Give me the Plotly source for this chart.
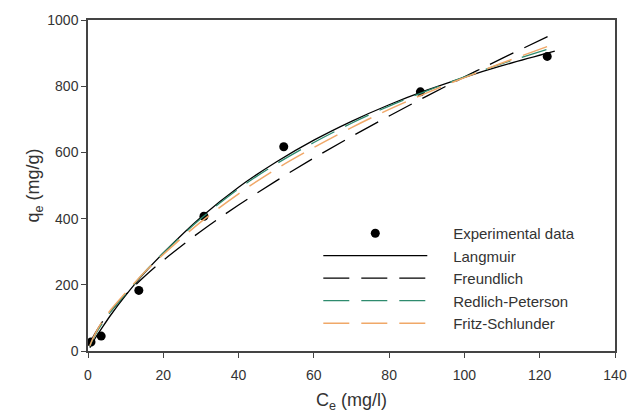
import plotly.graph_objects as go

ce_exp = [0.8, 3.5, 13.5, 30.8, 52, 88.3, 122]
qe_exp = [27, 45, 183, 407, 617, 783, 890]

# Model curves
ce_fit = [0.5, 1, 2, 3.5, 6, 10, 15, 20, 30, 40, 50, 60, 70, 80, 90, 100, 110, 124]
q_langmuir = [10, 20, 40, 66, 108, 168, 236, 296, 404, 495, 571, 637, 694, 744, 788, 827, 862, 906]
q_freundlich = [22, 35, 56, 83, 120, 170, 225, 274, 362, 441, 514, 583, 648, 710, 770, 828, 884, 960]
q_redlich = [14, 28, 50, 78, 118, 172, 238, 296, 400, 490, 565, 630, 688, 740, 786, 828, 868, 918]
q_fritz = [16, 30, 54, 84, 124, 176, 238, 292, 390, 475, 550, 615, 675, 730, 780, 826, 870, 928]

dash = "26px,12px"
pad = "\u00a0" * 5  # small gap between legend sample and its label

fig = go.Figure()
fig.add_trace(go.Scatter(x=ce_exp, y=qe_exp, mode="markers", name=pad + "Experimental data",
                         marker=dict(color="black", size=9)))
fig.add_trace(go.Scatter(x=ce_fit, y=q_langmuir, mode="lines", name=pad + "Langmuir",
                         line=dict(color="black", width=1.3, shape="spline")))
fig.add_trace(go.Scatter(x=ce_fit, y=q_freundlich, mode="lines", name=pad + "Freundlich",
                         line=dict(color="black", width=1.3, dash=dash, shape="spline")))
fig.add_trace(go.Scatter(x=ce_fit, y=q_redlich, mode="lines", name=pad + "Redlich-Peterson",
                         line=dict(color="#2e8b6e", width=1.3, dash=dash, shape="spline")))
fig.add_trace(go.Scatter(x=ce_fit, y=q_fritz, mode="lines", name=pad + "Fritz-Schlunder",
                         line=dict(color="#f0a868", width=1.5, dash=dash, shape="spline")))

axis_style = dict(
    showline=True, linecolor="#444", linewidth=1.5, mirror=True, automargin=False,
    ticks="outside", ticklen=5, tickcolor="#444", showgrid=False, zeroline=False,
    tickfont=dict(size=14, color="#333"), ticklabeloverflow="allow",
)

fig.update_layout(
    width=632, height=415,
    margin=dict(l=88, r=17, t=20, b=64),
    paper_bgcolor="white", plot_bgcolor="white",
    font=dict(family="Liberation Sans, Arial, sans-serif", size=15, color="#333"),
    showlegend=True,
    legend=dict(x=0.437, y=0.405, xanchor="left", yanchor="top",
                bgcolor="rgba(0,0,0,0)", itemwidth=104, tracegroupgap=0,
                font=dict(size=15, color="#333")),
    xaxis=dict(range=[0, 140], dtick=20, ticklabelstandoff=5,
               title=dict(text="C<sub>e</sub> (mg/l)", standoff=12), **axis_style),
    yaxis=dict(range=[0, 1000], dtick=200,
               title=dict(text="q<sub>e</sub> (mg/g)", standoff=3), **axis_style),
)

# drop the page's default body margin so the figure fills the window exactly
fig.write_html("out.html", config={"displayModeBar": False},
               post_script="document.body.style.margin='0';")
